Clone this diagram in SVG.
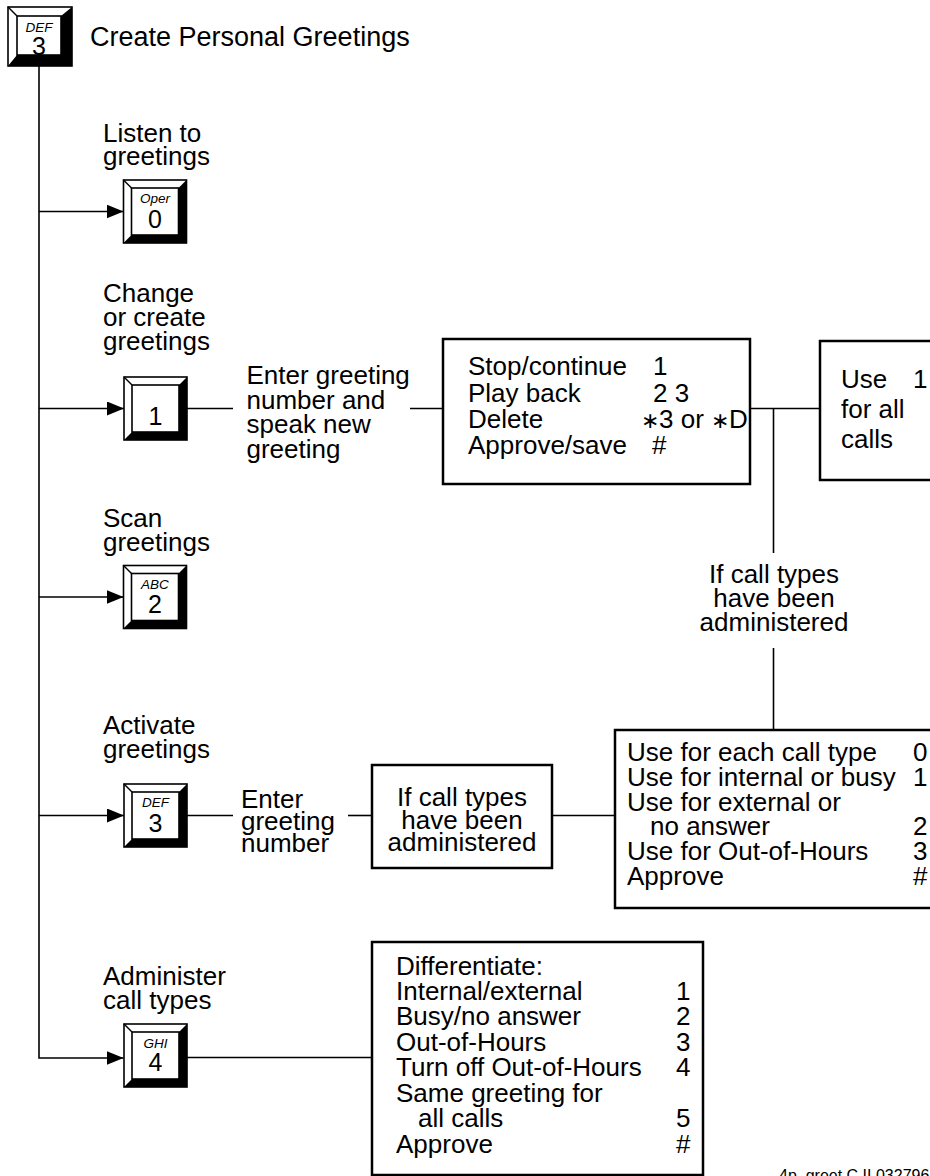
<svg xmlns="http://www.w3.org/2000/svg" xmlns:xlink="http://www.w3.org/1999/xlink" width="930" height="1176" viewBox="0 0 930 1176">
<style>
text{font-family:"Liberation Sans",Arial,sans-serif;fill:#000}
.t{font-size:26px}
.c{text-anchor:middle}
.kl{font-size:13.5px;font-style:italic;text-anchor:middle}
.kd{font-size:25px;text-anchor:middle}
.ln{fill:none;stroke:#000;stroke-width:1.6}
.box{fill:#fff;stroke:#000;stroke-width:2.5}
.ast{font-size:22px}
.foot{font-size:16px}
</style>
<defs>
<marker id="ah" markerWidth="17" markerHeight="14" refX="17" refY="7" orient="auto" markerUnits="userSpaceOnUse">
<path d="M0,0 L17,7 L0,14 z" fill="#000"/>
</marker>
<g id="key">
<rect x="0" y="0" width="63" height="63" fill="#fff" stroke="#000" stroke-width="1.6"/>
<path d="M63,0 L63,63 L0,63 L8,55 L55,55 L55,8 z" fill="#000"/>
<rect x="8" y="8" width="47" height="47" fill="#fff" stroke="#000" stroke-width="1.6"/>
<line x1="0" y1="0" x2="8" y2="8" stroke="#000" stroke-width="1.4"/>
</g>
</defs>
<rect width="930" height="1176" fill="#fff"/>

<g id="connectors">
<path class="ln" d="M39,66 V1058 H123.5" marker-end="url(#ah)"/>
<line class="ln" x1="39" y1="211.5" x2="123.5" y2="211.5" marker-end="url(#ah)"/>
<line class="ln" x1="39" y1="408.5" x2="124" y2="408.5" marker-end="url(#ah)"/>
<line class="ln" x1="39" y1="597" x2="123.5" y2="597" marker-end="url(#ah)"/>
<line class="ln" x1="39" y1="815.5" x2="124" y2="815.5" marker-end="url(#ah)"/>
<line class="ln" x1="187" y1="408.5" x2="233" y2="408.5"/>
<line class="ln" x1="410" y1="408.5" x2="443" y2="408.5"/>
<line class="ln" x1="750" y1="408.5" x2="820" y2="408.5"/>
<line class="ln" x1="773.5" y1="408.5" x2="773.5" y2="553"/>
<line class="ln" x1="773.5" y1="648" x2="773.5" y2="730"/>
<line class="ln" x1="187" y1="815.5" x2="233" y2="815.5"/>
<line class="ln" x1="348" y1="815.5" x2="372" y2="815.5"/>
<line class="ln" x1="552" y1="815.5" x2="615" y2="815.5"/>
<line class="ln" x1="187" y1="1057.5" x2="372" y2="1057.5"/>
</g>

<g id="root-key">
<rect x="8" y="7" width="64" height="59" fill="#fff" stroke="#000" stroke-width="1.6"/>
<path d="M72,7 L72,66 L8,66 L17,55 L61,55 L61,16 z" fill="#000"/>
<rect x="17" y="16" width="44" height="39" fill="#fff" stroke="#000" stroke-width="1.6"/>
<line x1="8" y1="7" x2="17" y2="16" stroke="#000" stroke-width="1.4"/>
<text class="kl" x="39" y="32">DEF</text>
<text class="kd" x="39" y="55">3</text>
<text x="90" y="46" style="font-size:27px">Create Personal Greetings</text>
</g>

<g id="listen">
<text class="t" x="103" y="141.5">Listen to</text>
<text class="t" x="103" y="165">greetings</text>
<use xlink:href="#key" href="#key" x="123.5" y="180"/>
<text class="kl" x="155" y="203">Oper</text>
<text class="kd" x="155" y="227.5">0</text>
</g>

<g id="change">
<text class="t" x="103" y="302">Change</text>
<text class="t" x="103" y="326">or create</text>
<text class="t" x="103" y="350">greetings</text>
<use xlink:href="#key" href="#key" x="124" y="377"/>
<text class="kd" x="155.5" y="425">1</text>
</g>

<g id="enter-greeting">
<text class="t" x="246.5" y="384">Enter greeting</text>
<text class="t" x="246.5" y="408.5">number and</text>
<text class="t" x="246.5" y="433">speak new</text>
<text class="t" x="246.5" y="457.5">greeting</text>
</g>

<g id="record-box">
<rect class="box" x="443" y="339" width="307" height="145"/>
<text class="t" x="468" y="375">Stop/continue</text>
<text class="t" x="653" y="375">1</text>
<text class="t" x="468" y="401.5">Play back</text>
<text class="t" x="653" y="401.5">2 3</text>
<text class="t" x="468" y="428">Delete</text>
<text class="t" x="641" y="428"><tspan class="ast">∗</tspan>3 or <tspan class="ast">∗</tspan>D</text>
<text class="t" x="468" y="453.5">Approve/save</text>
<text class="t" x="652" y="453.5">#</text>
</g>

<g id="use-all-box">
<rect class="box" x="820" y="341" width="120" height="139"/>
<text class="t" x="841" y="388">Use</text>
<text class="t" x="913" y="388">1</text>
<text class="t" x="841" y="418">for all</text>
<text class="t" x="841" y="448">calls</text>
</g>

<g id="if-admin-label">
<text class="t c" x="774" y="583">If call types</text>
<text class="t c" x="774" y="607">have been</text>
<text class="t c" x="774" y="631">administered</text>
</g>

<g id="scan">
<text class="t" x="103" y="527">Scan</text>
<text class="t" x="103" y="551">greetings</text>
<use xlink:href="#key" href="#key" x="123.5" y="565.5"/>
<text class="kl" x="155" y="588.5">ABC</text>
<text class="kd" x="155" y="613">2</text>
</g>

<g id="activate">
<text class="t" x="103" y="734">Activate</text>
<text class="t" x="103" y="758">greetings</text>
<use xlink:href="#key" href="#key" x="124" y="784"/>
<text class="kl" x="155.5" y="807">DEF</text>
<text class="kd" x="155.5" y="831.5">3</text>
</g>

<g id="enter-number">
<text class="t" x="241" y="808">Enter</text>
<text class="t" x="241" y="830">greeting</text>
<text class="t" x="241" y="852">number</text>
</g>

<g id="if-admin-box">
<rect class="box" x="372" y="765" width="180" height="103"/>
<text class="t c" x="462" y="806">If call types</text>
<text class="t c" x="462" y="828.5">have been</text>
<text class="t c" x="462" y="851">administered</text>
</g>

<g id="call-type-box">
<rect class="box" x="615" y="730" width="330" height="178"/>
<text class="t" x="627" y="761">Use for each call type</text>
<text class="t" x="913" y="761">0</text>
<text class="t" x="627" y="785.8">Use for internal or busy</text>
<text class="t" x="913" y="785.8">1</text>
<text class="t" x="627" y="810.6">Use for external or</text>
<text class="t" x="650" y="835.4">no answer</text>
<text class="t" x="913" y="835.4">2</text>
<text class="t" x="627" y="860.2">Use for Out-of-Hours</text>
<text class="t" x="913" y="860.2">3</text>
<text class="t" x="627" y="885">Approve</text>
<text class="t" x="913" y="885">#</text>
</g>

<g id="administer">
<text class="t" x="103" y="985">Administer</text>
<text class="t" x="103" y="1009">call types</text>
<use xlink:href="#key" href="#key" x="124" y="1024"/>
<text class="kl" x="155.5" y="1047.5">GHI</text>
<text class="kd" x="155.5" y="1071">4</text>
</g>

<g id="differentiate-box">
<rect class="box" x="372" y="942" width="331" height="233"/>
<text class="t" x="396" y="975">Differentiate:</text>
<text class="t" x="396" y="1000">Internal/external</text>
<text class="t" x="676" y="1000">1</text>
<text class="t" x="396" y="1025">Busy/no answer</text>
<text class="t" x="676" y="1025">2</text>
<text class="t" x="396" y="1050.5">Out-of-Hours</text>
<text class="t" x="676" y="1050.5">3</text>
<text class="t" x="396" y="1076">Turn off Out-of-Hours</text>
<text class="t" x="676" y="1076">4</text>
<text class="t" x="396" y="1101.5">Same greeting for</text>
<text class="t" x="418" y="1127">all calls</text>
<text class="t" x="676" y="1127">5</text>
<text class="t" x="396" y="1152.5">Approve</text>
<text class="t" x="676" y="1152.5">#</text>
</g>

<text class="foot" x="779" y="1181">4p_greet C.II 032796</text>
</svg>
